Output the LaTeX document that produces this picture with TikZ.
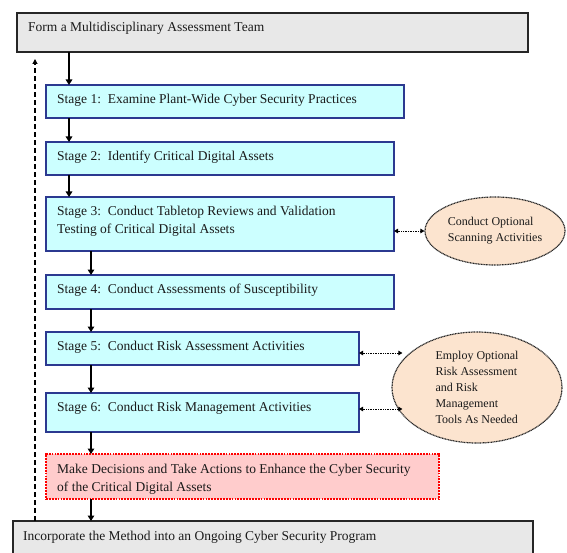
\documentclass[tikz,border=0pt]{standalone}
\usepackage{fontspec}
\setmainfont{Liberation Serif}
\usetikzlibrary{arrows.meta,shapes.geometric,calc}

\definecolor{stagefill}{HTML}{CCFFFF}
\definecolor{stageline}{HTML}{2B3990}
\definecolor{teamfill}{HTML}{E8E8E8}
\definecolor{actfill}{HTML}{FFCCCC}
\definecolor{actline}{HTML}{FF0000}
\definecolor{optfill}{HTML}{FCE4CF}
\definecolor{optline}{HTML}{262626}
\definecolor{ink}{HTML}{1A1A1A}

\begin{document}
\begin{tikzpicture}[x=1pt,y=-1pt,
  box/.style={draw, anchor=north west, inner sep=0pt, outer sep=0pt},
  teambox/.style={box, fill=teamfill, draw=black!85, line width=1.4pt},
  stagebox/.style={box, fill=stagefill, draw=stageline, line width=1.4pt},
  actbox/.style={box, fill=actfill, draw=actline, line width=2.8pt, dash pattern=on 1.8pt off 1.1pt},
  opt/.style={ellipse, fill=optfill, draw=optline, line width=1.2pt, dash pattern=on 1pt off 0.6pt,
    inner sep=0pt, align=left, font=\fontsize{12}{16}\selectfont, text=ink},
  lbl/.style={anchor=north west, inner sep=0pt, align=left, font=\fontsize{13.5}{18}\selectfont, text=ink},
  flow/.style={line width=2pt, -{Triangle[length=5.5pt,width=6.5pt]}},
  back/.style={line width=1.1pt, dash pattern=on 5pt off 3pt, -{Triangle[length=5pt,width=5pt]}},
  link/.style={line width=0.9pt, dash pattern=on 1pt off 0.7pt,
    {Triangle[length=4pt,width=4.5pt]}-{Triangle[length=4pt,width=4.5pt]}}
]
\useasboundingbox (0,0) rectangle (567,553);

% columns of the vertical connectors
\coordinate (c0) at (35,0);
\coordinate (c1) at (69,0);
\coordinate (c2) at (91,0);

% team box and the ongoing programme
\node[teambox, minimum width=511pt, minimum height=39pt] (team) at (17,13) {};
\node[lbl] (teamt) at ([xshift=11pt,yshift=-9pt]team.north west) {Form a Multidisciplinary Assessment Team};

\node[teambox, minimum width=520pt, minimum height=50pt] (prog) at (13,521) {};
\node[lbl] (progt) at ([xshift=10pt,yshift=-10pt]prog.north west) {Incorporate the Method into an Ongoing Cyber Security Program};

% stages
\node[stagebox, minimum width=358pt, minimum height=33pt] (s1) at (46,85) {};
\node[lbl] (s1t) at ([xshift=11pt,yshift=-9pt]s1.north west) {Stage 1:\ \ Examine Plant-Wide Cyber Security Practices};

\node[stagebox, minimum width=348pt, minimum height=33pt] (s2) at (46,142) {};
\node[lbl] (s2t) at ([xshift=11pt,yshift=-9pt]s2.north west) {Stage 2:\ \ Identify Critical Digital Assets};

\node[stagebox, minimum width=348pt, minimum height=54pt] (s3) at (46,197) {};
\node[lbl] (s3t) at ([xshift=11pt,yshift=-9pt]s3.north west) {Stage 3:\ \ Conduct Tabletop Reviews and Validation\\Testing of Critical Digital Assets};

\node[stagebox, minimum width=348pt, minimum height=34pt] (s4) at (46,275) {};
\node[lbl] (s4t) at ([xshift=11pt,yshift=-9pt]s4.north west) {Stage 4:\ \ Conduct Assessments of Susceptibility};

\node[stagebox, minimum width=313pt, minimum height=33pt] (s5) at (46,332) {};
\node[lbl] (s5t) at ([xshift=11pt,yshift=-9pt]s5.north west) {Stage 5:\ \ Conduct Risk Assessment Activities};

\node[stagebox, minimum width=313pt, minimum height=39pt] (s6) at (46,393) {};
\node[lbl] (s6t) at ([xshift=11pt,yshift=-9pt]s6.north west) {Stage 6:\ \ Conduct Risk Management Activities};

% decisions and actions
\node[actbox, minimum width=393pt, minimum height=45pt] (act) at (46,454) {};
\node[lbl] (actt) at ([xshift=11pt,yshift=-10pt]act.north west) {Make Decisions and Take Actions to Enhance the Cyber Security\\of the Critical Digital Assets};

% optional activities
\node[opt, minimum width=140pt, minimum height=68pt] (scan) at (495,231) {Conduct Optional\\Scanning Activities};
\node[opt, minimum width=170pt, minimum height=111pt] (tools) at (477,387.5)
  {Employ Optional\\Risk Assessment\\and Risk\\Management\\Tools As Needed};

% main flow
\draw[flow] (team.south -| c1) -- (s1.north -| c1);
\draw[flow] (s1.south -| c1) -- (s2.north -| c1);
\draw[flow] (s2.south -| c1) -- (s3.north -| c1);
\draw[flow] (s3.south -| c2) -- (s4.north -| c2);
\draw[flow] (s4.south -| c2) -- (s5.north -| c2);
\draw[flow] (s5.south -| c2) -- (s6.north -| c2);
\draw[flow] (s6.south -| c2) -- (act.north -| c2);
\draw[flow] (act.south -| c2) -- (prog.north -| c2);

% feedback loop
\draw[back] (prog.north -| c0) -- ([yshift=-7pt]team.south -| c0);

% links to the optional activities
\draw[link] (s3.east |- scan.west) -- (scan.west);
\draw[link] ([yshift=-4.5pt]s5.east) -- ([yshift=-4.5pt,xshift=11pt]s5.east -| tools.west);
\draw[link] ([yshift=3.5pt]s6.east) -- ([yshift=3.5pt,xshift=11pt]s6.east -| tools.west);
\end{tikzpicture}
\end{document}
